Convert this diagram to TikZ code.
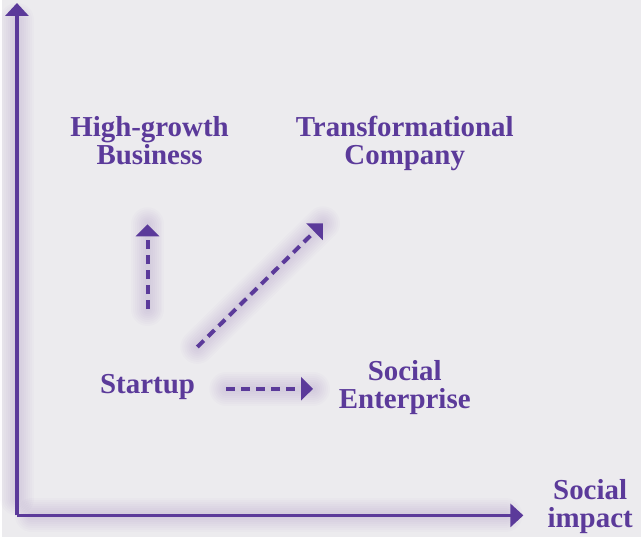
\documentclass[tikz,border=0pt]{standalone}
\usepackage{fontspec}
\setmainfont{Liberation Serif}
\usetikzlibrary{arrows.meta}
\definecolor{plum}{HTML}{5B3A9A}
\definecolor{paper}{HTML}{ECEBEE}

\begin{document}
\begin{tikzpicture}[x=1pt, y=-1pt,
	lbl/.style={text=plum, font=\bfseries\fontsize{29}{28}\selectfont, align=center, inner sep=0pt, anchor=base},
	axisline/.style={plum, line width=3.5pt, -{Triangle[width=23pt,length=13pt]}},
	movearrow/.style={plum, line width=4pt, dash pattern=on 9pt off 6pt, -{Triangle[width=23pt,length=12pt]}},
	halo/.style={plum, line width=#1, opacity=0.018, line cap=round}]
	\fill [paper] (0,0) rectangle (641,539);

	\coordinate (O) at (15,517);
	\coordinate (Y) at (15,3);
	\coordinate (X) at (523,517);
	\coordinate (U0) at (146,310);
	\coordinate (U1) at (146,225);
	\coordinate (D0) at (196,348);
	\coordinate (D1) at (322,224);
	\coordinate (R0) at (225,390);
	\coordinate (R1) at (312,390);

	% soft glow under the arrows
	\foreach \w in {6,10,...,34} {
		\draw [halo=\w pt] (15,500) -- (15,20);
		\draw [halo=\w pt] (30,517) -- (505,517);
		\draw [halo=\w pt] (U0) -- (U1);
		\draw [halo=\w pt] (D0) -- (D1);
		\draw [halo=\w pt] (R0) -- (R1);
	}

	\draw [axisline] (O) -- (Y);
	\draw [axisline] (O) -- (X);
	\draw [movearrow] (U0) -- (U1);
	\draw [movearrow] (D0) -- (D1);
	\draw [movearrow] (R0) -- (R1);

	\node [lbl] (hg) at (148,165) {High-growth\\Business};
	\node [lbl] (tc) at (404,165) {Transformational\\Company};
	\node [lbl] (st) at (146,395) {Startup};
	\node [lbl] (se) at (404,410) {Social\\Enterprise};
	\node [lbl] (si) at (590,529) {Social\\impact};
\end{tikzpicture}
\end{document}
